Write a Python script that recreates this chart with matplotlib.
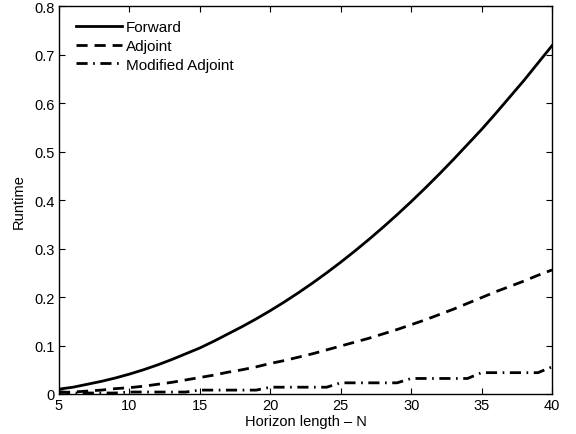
import matplotlib
matplotlib.use("Agg")
import matplotlib.pyplot as plt

N = list(range(5, 41))
forward = [0.010, 0.014, 0.020, 0.026, 0.033, 0.041, 0.050, 0.060, 0.071, 0.083,
           0.095, 0.109, 0.124, 0.139, 0.155, 0.172, 0.190, 0.209, 0.229, 0.250,
           0.272, 0.295, 0.319, 0.344, 0.370, 0.397, 0.425, 0.454, 0.484, 0.515,
           0.546, 0.579, 0.613, 0.647, 0.683, 0.719]
adjoint = [0.003, 0.004, 0.006, 0.008, 0.011, 0.013, 0.016, 0.020, 0.024, 0.029,
           0.034, 0.039, 0.045, 0.050, 0.056, 0.063, 0.069, 0.076, 0.083, 0.091,
           0.099, 0.107, 0.115, 0.124, 0.133, 0.143, 0.153, 0.164, 0.175, 0.187,
           0.199, 0.211, 0.222, 0.233, 0.245, 0.256]
modified = [0.005, 0.002, 0.002, 0.002, 0.002, 0.004, 0.004, 0.004, 0.004, 0.004,
            0.008, 0.008, 0.008, 0.008, 0.008, 0.014, 0.014, 0.014, 0.014, 0.014,
            0.023, 0.023, 0.023, 0.023, 0.023, 0.032, 0.032, 0.032, 0.032, 0.032,
            0.044, 0.044, 0.044, 0.044, 0.044, 0.056]
labels = ["Forward", "Adjoint", "Modified Adjoint"]
xticks = [5, 10, 15, 20, 25, 30, 35, 40]
yticks = [0, 0.1, 0.2, 0.3, 0.4, 0.5, 0.6, 0.7, 0.8]

plt.rcParams['font.family'] = ['Liberation Sans', 'DejaVu Sans']
fig = plt.figure(figsize=(5.76, 4.35), dpi=100)
ax = fig.add_axes([0.1024, 0.092, 0.856, 0.891])

ax.plot(N, forward, color='black', lw=2.0, ls='-', label=labels[0])
ax.plot(N, adjoint, color='black', lw=2.0, ls=(0, (4, 2.5)), label=labels[1])
ax.plot(N, modified, color='black', lw=2.0, ls=(0, (4, 2, 0.6, 2)), label=labels[2])

ax.set_xlim(5, 40)
ax.set_ylim(0, 0.8)
ax.set_xticks(xticks)
ax.set_yticks(yticks)
ax.set_xticklabels([str(v) for v in xticks])
ax.set_yticklabels(["0" if v == 0 else f"{v:.1f}" for v in yticks])
ax.tick_params(direction='in', top=True, right=True, length=4, width=0.8, labelsize=10.5, pad=3)
for s in ax.spines.values():
    s.set_linewidth(1.0)

ax.set_xlabel("Horizon length – N", fontsize=10.5, labelpad=1)
ax.set_ylabel("Runtime", fontsize=10.5, labelpad=6)

leg = ax.legend(loc='upper left', frameon=False, fontsize=11, handlelength=3.0,
                handletextpad=0.3, labelspacing=0.3, borderaxespad=0.0,
                borderpad=0.0, bbox_to_anchor=(0.034, 0.964))

fig.savefig("out.png", dpi=100)
